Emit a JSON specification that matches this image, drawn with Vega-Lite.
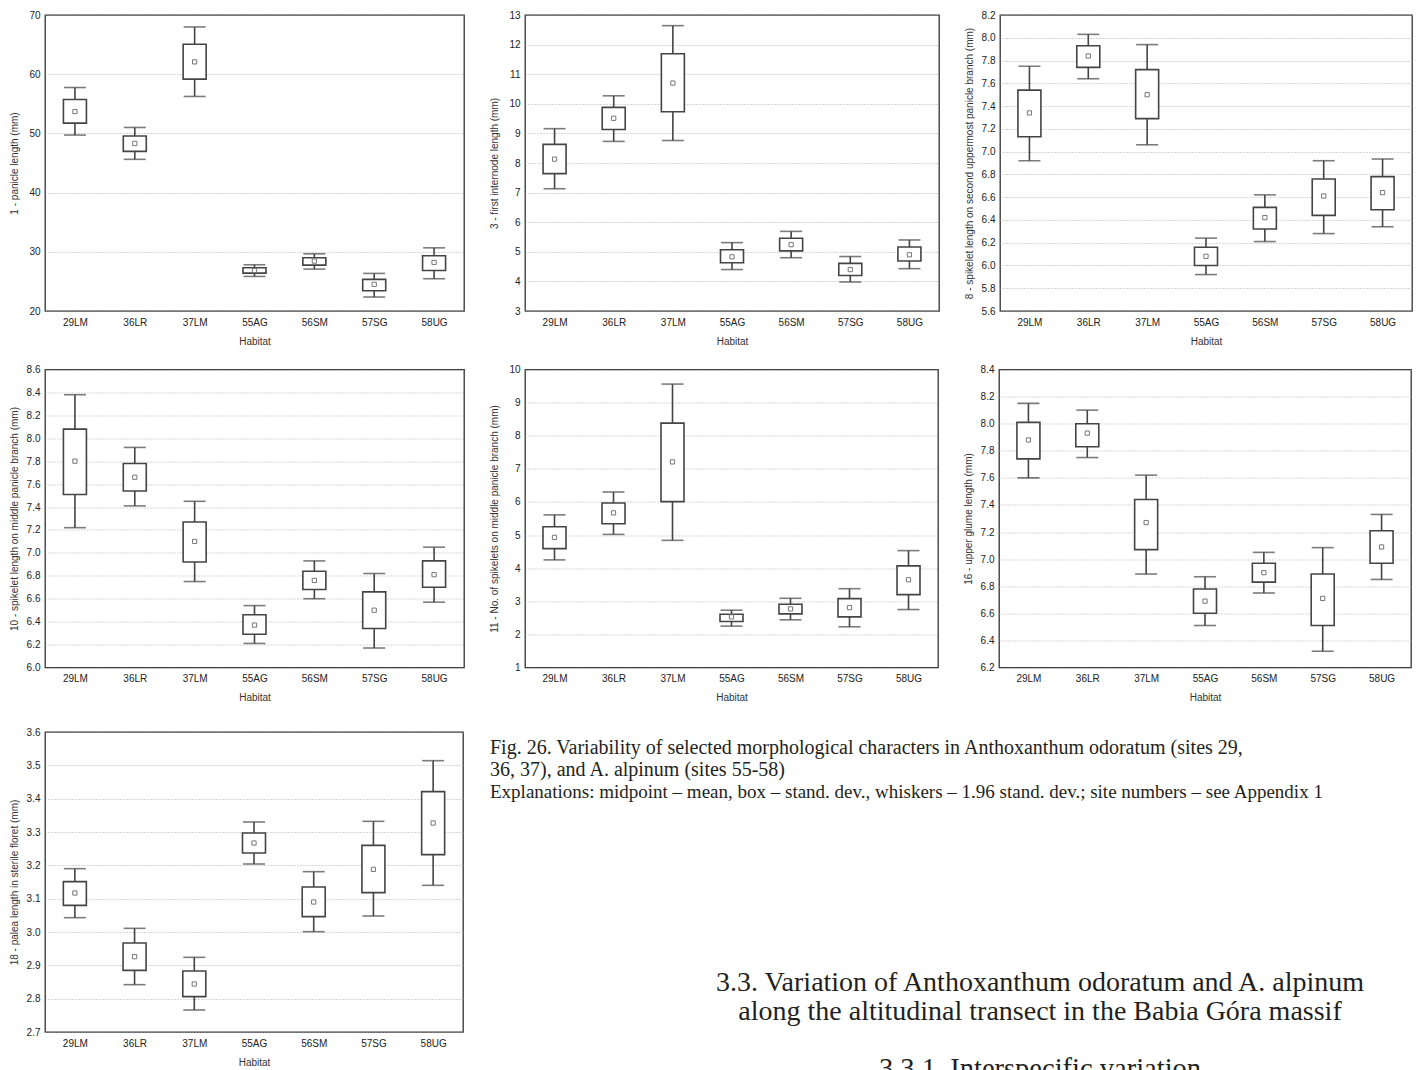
{
  "$schema": "https://vega.github.io/schema/vega-lite/v6.json",
  "background": "white",
  "padding": {"left": 8, "top": 9, "right": 0, "bottom": 0},
  "config": {
    "view": {"stroke": "#333", "strokeWidth": 1.3},
    "font": "Liberation Sans",
    "axis": {"labelFont": "Liberation Sans", "titleFont": "Liberation Sans", "labelFontSize": 10, "titleFontSize": 10, "titleFontWeight": "normal", "labelColor": "#222", "titleColor": "#333", "domain": false, "ticks": false, "labelOverlap": false},
    "axisY": {"grid": true, "gridDash": [1, 2], "gridColor": "#9a9a9a", "gridWidth": 0.8, "labelPadding": 5, "titlePadding": 6, "minExtent": 20, "maxExtent": 20, "labelOverlap": false, "tickCount": 30},
    "axisX": {"grid": false, "labelPadding": 6, "titlePadding": 9, "labelAngle": 0}
  },
  "datasets": {
    "boxes": [
      {"trait": "t1", "habitat": "29LM", "mean": 53.7, "box_lo": 51.74, "box_hi": 55.73, "whisker_lo": 49.72, "whisker_hi": 57.75},
      {"trait": "t1", "habitat": "36LR", "mean": 48.3, "box_lo": 46.97, "box_hi": 49.55, "whisker_lo": 45.62, "whisker_hi": 51.0},
      {"trait": "t1", "habitat": "37LM", "mean": 62.08, "box_lo": 59.16, "box_hi": 65.06, "whisker_lo": 56.24, "whisker_hi": 67.98},
      {"trait": "t1", "habitat": "55AG", "mean": 26.85, "box_lo": 26.4, "box_hi": 27.3, "whisker_lo": 25.84, "whisker_hi": 27.81},
      {"trait": "t1", "habitat": "56SM", "mean": 28.43, "box_lo": 27.75, "box_hi": 28.99, "whisker_lo": 27.08, "whisker_hi": 29.66},
      {"trait": "t1", "habitat": "57SG", "mean": 24.5, "box_lo": 23.43, "box_hi": 25.34, "whisker_lo": 22.36, "whisker_hi": 26.35},
      {"trait": "t1", "habitat": "58UG", "mean": 28.2, "box_lo": 26.85, "box_hi": 29.33, "whisker_lo": 25.45, "whisker_hi": 30.67},
      {"trait": "t3", "habitat": "29LM", "mean": 8.13, "box_lo": 7.64, "box_hi": 8.63, "whisker_lo": 7.13, "whisker_hi": 9.16},
      {"trait": "t3", "habitat": "36LR", "mean": 9.51, "box_lo": 9.13, "box_hi": 9.88, "whisker_lo": 8.73, "whisker_hi": 10.27},
      {"trait": "t3", "habitat": "37LM", "mean": 10.7, "box_lo": 9.73, "box_hi": 11.69, "whisker_lo": 8.76, "whisker_hi": 12.64},
      {"trait": "t3", "habitat": "55AG", "mean": 4.83, "box_lo": 4.63, "box_hi": 5.07, "whisker_lo": 4.4, "whisker_hi": 5.31},
      {"trait": "t3", "habitat": "56SM", "mean": 5.24, "box_lo": 5.03, "box_hi": 5.46, "whisker_lo": 4.8, "whisker_hi": 5.69},
      {"trait": "t3", "habitat": "57SG", "mean": 4.4, "box_lo": 4.2, "box_hi": 4.61, "whisker_lo": 3.98, "whisker_hi": 4.84},
      {"trait": "t3", "habitat": "58UG", "mean": 4.9, "box_lo": 4.69, "box_hi": 5.16, "whisker_lo": 4.43, "whisker_hi": 5.4},
      {"trait": "t8", "habitat": "29LM", "mean": 7.34, "box_lo": 7.13, "box_hi": 7.54, "whisker_lo": 6.92, "whisker_hi": 7.75},
      {"trait": "t8", "habitat": "36LR", "mean": 7.84, "box_lo": 7.74, "box_hi": 7.93, "whisker_lo": 7.64, "whisker_hi": 8.03},
      {"trait": "t8", "habitat": "37LM", "mean": 7.5, "box_lo": 7.29, "box_hi": 7.72, "whisker_lo": 7.06, "whisker_hi": 7.94},
      {"trait": "t8", "habitat": "55AG", "mean": 6.08, "box_lo": 6.0, "box_hi": 6.16, "whisker_lo": 5.92, "whisker_hi": 6.24},
      {"trait": "t8", "habitat": "56SM", "mean": 6.42, "box_lo": 6.32, "box_hi": 6.51, "whisker_lo": 6.21, "whisker_hi": 6.62},
      {"trait": "t8", "habitat": "57SG", "mean": 6.61, "box_lo": 6.44, "box_hi": 6.76, "whisker_lo": 6.28, "whisker_hi": 6.92},
      {"trait": "t8", "habitat": "58UG", "mean": 6.64, "box_lo": 6.49, "box_hi": 6.78, "whisker_lo": 6.34, "whisker_hi": 6.935},
      {"trait": "t10", "habitat": "29LM", "mean": 7.8, "box_lo": 7.51, "box_hi": 8.08, "whisker_lo": 7.22, "whisker_hi": 8.38},
      {"trait": "t10", "habitat": "36LR", "mean": 7.66, "box_lo": 7.54, "box_hi": 7.78, "whisker_lo": 7.41, "whisker_hi": 7.92},
      {"trait": "t10", "habitat": "37LM", "mean": 7.1, "box_lo": 6.92, "box_hi": 7.27, "whisker_lo": 6.75, "whisker_hi": 7.45},
      {"trait": "t10", "habitat": "55AG", "mean": 6.37, "box_lo": 6.29, "box_hi": 6.46, "whisker_lo": 6.21, "whisker_hi": 6.54},
      {"trait": "t10", "habitat": "56SM", "mean": 6.76, "box_lo": 6.68, "box_hi": 6.84, "whisker_lo": 6.6, "whisker_hi": 6.93},
      {"trait": "t10", "habitat": "57SG", "mean": 6.5, "box_lo": 6.34, "box_hi": 6.66, "whisker_lo": 6.17, "whisker_hi": 6.82},
      {"trait": "t10", "habitat": "58UG", "mean": 6.81, "box_lo": 6.7, "box_hi": 6.93, "whisker_lo": 6.57, "whisker_hi": 7.05},
      {"trait": "t11", "habitat": "29LM", "mean": 4.93, "box_lo": 4.59, "box_hi": 5.25, "whisker_lo": 4.25, "whisker_hi": 5.61},
      {"trait": "t11", "habitat": "36LR", "mean": 5.67, "box_lo": 5.34, "box_hi": 5.97, "whisker_lo": 5.02, "whisker_hi": 6.3},
      {"trait": "t11", "habitat": "37LM", "mean": 7.21, "box_lo": 6.01, "box_hi": 8.38, "whisker_lo": 4.84, "whisker_hi": 9.56},
      {"trait": "t11", "habitat": "55AG", "mean": 2.53, "box_lo": 2.39, "box_hi": 2.61, "whisker_lo": 2.25, "whisker_hi": 2.73},
      {"trait": "t11", "habitat": "56SM", "mean": 2.77, "box_lo": 2.62, "box_hi": 2.91, "whisker_lo": 2.44, "whisker_hi": 3.09},
      {"trait": "t11", "habitat": "57SG", "mean": 2.81, "box_lo": 2.53, "box_hi": 3.08, "whisker_lo": 2.23, "whisker_hi": 3.38},
      {"trait": "t11", "habitat": "58UG", "mean": 3.65, "box_lo": 3.2, "box_hi": 4.07, "whisker_lo": 2.75, "whisker_hi": 4.53},
      {"trait": "t16", "habitat": "29LM", "mean": 7.88, "box_lo": 7.74, "box_hi": 8.01, "whisker_lo": 7.6, "whisker_hi": 8.15},
      {"trait": "t16", "habitat": "36LR", "mean": 7.93, "box_lo": 7.83, "box_hi": 8.0, "whisker_lo": 7.75, "whisker_hi": 8.1},
      {"trait": "t16", "habitat": "37LM", "mean": 7.27, "box_lo": 7.07, "box_hi": 7.44, "whisker_lo": 6.89, "whisker_hi": 7.62},
      {"trait": "t16", "habitat": "55AG", "mean": 6.69, "box_lo": 6.6, "box_hi": 6.78, "whisker_lo": 6.51, "whisker_hi": 6.87},
      {"trait": "t16", "habitat": "56SM", "mean": 6.9, "box_lo": 6.83, "box_hi": 6.97, "whisker_lo": 6.75, "whisker_hi": 7.05},
      {"trait": "t16", "habitat": "57SG", "mean": 6.71, "box_lo": 6.51, "box_hi": 6.89, "whisker_lo": 6.32, "whisker_hi": 7.085},
      {"trait": "t16", "habitat": "58UG", "mean": 7.09, "box_lo": 6.97, "box_hi": 7.21, "whisker_lo": 6.85, "whisker_hi": 7.33},
      {"trait": "t18", "habitat": "29LM", "mean": 3.117, "box_lo": 3.08, "box_hi": 3.151, "whisker_lo": 3.043, "whisker_hi": 3.19},
      {"trait": "t18", "habitat": "36LR", "mean": 2.926, "box_lo": 2.885, "box_hi": 2.967, "whisker_lo": 2.842, "whisker_hi": 3.011},
      {"trait": "t18", "habitat": "37LM", "mean": 2.844, "box_lo": 2.806, "box_hi": 2.883, "whisker_lo": 2.766, "whisker_hi": 2.924},
      {"trait": "t18", "habitat": "55AG", "mean": 3.267, "box_lo": 3.237, "box_hi": 3.297, "whisker_lo": 3.204, "whisker_hi": 3.33},
      {"trait": "t18", "habitat": "56SM", "mean": 3.09, "box_lo": 3.046, "box_hi": 3.135, "whisker_lo": 3.001, "whisker_hi": 3.181},
      {"trait": "t18", "habitat": "57SG", "mean": 3.188, "box_lo": 3.118, "box_hi": 3.26, "whisker_lo": 3.048, "whisker_hi": 3.332},
      {"trait": "t18", "habitat": "58UG", "mean": 3.327, "box_lo": 3.232, "box_hi": 3.421, "whisker_lo": 3.14, "whisker_hi": 3.514}
    ],
    "caption": [
      {"block": "caption", "line": "c1", "style": "caption", "text": "Fig. 26. Variability of selected morphological characters in Anthoxanthum odoratum (sites 29,"},
      {"block": "caption", "line": "c2", "style": "caption", "text": "36, 37), and A. alpinum (sites 55-58)"},
      {"block": "caption", "line": "e", "style": "note", "text": "Explanations: midpoint – mean, box – stand. dev., whiskers – 1.96 stand. dev.; site numbers – see Appendix 1"}
    ],
    "heading": [
      {"block": "heading", "line": "h1", "cut": "no", "text": "3.3. Variation of Anthoxanthum odoratum and A. alpinum"},
      {"block": "heading", "line": "h2", "cut": "no", "text": "along the altitudinal transect in the Babia Góra massif"},
      {"block": "heading", "line": "h4", "cut": "yes", "text": "3.3.1. Interspecific variation"}
    ]
  },
  "vconcat": [
    {
      "vconcat": [
        {
          "hconcat": [
            {
              "width": 419, "height": 296,
              "data": {"name": "boxes"},
              "transform": [{"filter": "datum.trait == 't1'"}],
              "encoding": {"x": {"field": "habitat", "type": "nominal", "sort": null, "title": "Habitat", "scale": {"type": "point", "padding": 0.5}}},
              "layer": [
                {"mark": {"type": "rule", "color": "#444", "strokeWidth": 1.6}, "encoding": {"y": {"field": "whisker_lo", "type": "quantitative", "title": "1 - panicle length (mm)", "scale": {"domain": [20, 70], "nice": false, "zero": false}, "axis": {"values": [20, 30, 40, 50, 60, 70], "format": "d", "labelOverlap": false, "tickCount": 30}}, "y2": {"field": "whisker_hi"}}},
                {"mark": {"type": "tick", "color": "#444", "thickness": 1.6, "size": 22}, "encoding": {"y": {"field": "whisker_lo", "type": "quantitative", "title": "1 - panicle length (mm)"}}},
                {"mark": {"type": "tick", "color": "#444", "thickness": 1.6, "size": 22}, "encoding": {"y": {"field": "whisker_hi", "type": "quantitative", "title": "1 - panicle length (mm)"}}},
                {"mark": {"type": "bar", "width": 23, "fill": "white", "stroke": "#444", "strokeWidth": 1.6}, "encoding": {"y": {"field": "box_lo", "type": "quantitative", "title": "1 - panicle length (mm)"}, "y2": {"field": "box_hi"}}},
                {"mark": {"type": "point", "shape": "square", "size": 18, "filled": false, "color": "#777", "strokeWidth": 1, "opacity": 1}, "encoding": {"y": {"field": "mean", "type": "quantitative", "title": "1 - panicle length (mm)"}}}
              ]
            },
            {
              "width": 414, "height": 296,
              "data": {"name": "boxes"},
              "transform": [{"filter": "datum.trait == 't3'"}],
              "encoding": {"x": {"field": "habitat", "type": "nominal", "sort": null, "title": "Habitat", "scale": {"type": "point", "padding": 0.5}}},
              "layer": [
                {"mark": {"type": "rule", "color": "#444", "strokeWidth": 1.6}, "encoding": {"y": {"field": "whisker_lo", "type": "quantitative", "title": "3 - first internode length (mm)", "scale": {"domain": [3, 13], "nice": false, "zero": false}, "axis": {"values": [3, 4, 5, 6, 7, 8, 9, 10, 11, 12, 13], "format": "d", "labelOverlap": false, "tickCount": 30}}, "y2": {"field": "whisker_hi"}}},
                {"mark": {"type": "tick", "color": "#444", "thickness": 1.6, "size": 22}, "encoding": {"y": {"field": "whisker_lo", "type": "quantitative", "title": "3 - first internode length (mm)"}}},
                {"mark": {"type": "tick", "color": "#444", "thickness": 1.6, "size": 22}, "encoding": {"y": {"field": "whisker_hi", "type": "quantitative", "title": "3 - first internode length (mm)"}}},
                {"mark": {"type": "bar", "width": 23, "fill": "white", "stroke": "#444", "strokeWidth": 1.6}, "encoding": {"y": {"field": "box_lo", "type": "quantitative", "title": "3 - first internode length (mm)"}, "y2": {"field": "box_hi"}}},
                {"mark": {"type": "point", "shape": "square", "size": 18, "filled": false, "color": "#777", "strokeWidth": 1, "opacity": 1}, "encoding": {"y": {"field": "mean", "type": "quantitative", "title": "3 - first internode length (mm)"}}}
              ]
            },
            {
              "width": 412, "height": 296,
              "data": {"name": "boxes"},
              "transform": [{"filter": "datum.trait == 't8'"}],
              "encoding": {"x": {"field": "habitat", "type": "nominal", "sort": null, "title": "Habitat", "scale": {"type": "point", "padding": 0.5}}},
              "layer": [
                {"mark": {"type": "rule", "color": "#444", "strokeWidth": 1.6}, "encoding": {"y": {"field": "whisker_lo", "type": "quantitative", "title": "8 - spikelet length on second uppermost panicle branch (mm)", "scale": {"domain": [5.6, 8.2], "nice": false, "zero": false}, "axis": {"values": [5.6, 5.8, 6.0, 6.2, 6.4, 6.6, 6.8, 7.0, 7.2, 7.4, 7.6, 7.8, 8.0, 8.2], "format": ".1f", "labelOverlap": false, "tickCount": 30}}, "y2": {"field": "whisker_hi"}}},
                {"mark": {"type": "tick", "color": "#444", "thickness": 1.6, "size": 22}, "encoding": {"y": {"field": "whisker_lo", "type": "quantitative", "title": "8 - spikelet length on second uppermost panicle branch (mm)"}}},
                {"mark": {"type": "tick", "color": "#444", "thickness": 1.6, "size": 22}, "encoding": {"y": {"field": "whisker_hi", "type": "quantitative", "title": "8 - spikelet length on second uppermost panicle branch (mm)"}}},
                {"mark": {"type": "bar", "width": 23, "fill": "white", "stroke": "#444", "strokeWidth": 1.6}, "encoding": {"y": {"field": "box_lo", "type": "quantitative", "title": "8 - spikelet length on second uppermost panicle branch (mm)"}, "y2": {"field": "box_hi"}}},
                {"mark": {"type": "point", "shape": "square", "size": 18, "filled": false, "color": "#777", "strokeWidth": 1, "opacity": 1}, "encoding": {"y": {"field": "mean", "type": "quantitative", "title": "8 - spikelet length on second uppermost panicle branch (mm)"}}}
              ]
            }
          ],
          "bounds": "flush",
          "spacing": 61
        },
        {
          "hconcat": [
            {
              "width": 419, "height": 298,
              "data": {"name": "boxes"},
              "transform": [{"filter": "datum.trait == 't10'"}],
              "encoding": {"x": {"field": "habitat", "type": "nominal", "sort": null, "title": "Habitat", "scale": {"type": "point", "padding": 0.5}}},
              "layer": [
                {"mark": {"type": "rule", "color": "#444", "strokeWidth": 1.6}, "encoding": {"y": {"field": "whisker_lo", "type": "quantitative", "title": "10 - spikelet length on middle panicle branch (mm)", "scale": {"domain": [6.0, 8.6], "nice": false, "zero": false}, "axis": {"values": [6.0, 6.2, 6.4, 6.6, 6.8, 7.0, 7.2, 7.4, 7.6, 7.8, 8.0, 8.2, 8.4, 8.6], "format": ".1f", "labelOverlap": false, "tickCount": 30}}, "y2": {"field": "whisker_hi"}}},
                {"mark": {"type": "tick", "color": "#444", "thickness": 1.6, "size": 22}, "encoding": {"y": {"field": "whisker_lo", "type": "quantitative", "title": "10 - spikelet length on middle panicle branch (mm)"}}},
                {"mark": {"type": "tick", "color": "#444", "thickness": 1.6, "size": 22}, "encoding": {"y": {"field": "whisker_hi", "type": "quantitative", "title": "10 - spikelet length on middle panicle branch (mm)"}}},
                {"mark": {"type": "bar", "width": 23, "fill": "white", "stroke": "#444", "strokeWidth": 1.6}, "encoding": {"y": {"field": "box_lo", "type": "quantitative", "title": "10 - spikelet length on middle panicle branch (mm)"}, "y2": {"field": "box_hi"}}},
                {"mark": {"type": "point", "shape": "square", "size": 18, "filled": false, "color": "#777", "strokeWidth": 1, "opacity": 1}, "encoding": {"y": {"field": "mean", "type": "quantitative", "title": "10 - spikelet length on middle panicle branch (mm)"}}}
              ]
            },
            {
              "width": 413, "height": 298,
              "data": {"name": "boxes"},
              "transform": [{"filter": "datum.trait == 't11'"}],
              "encoding": {"x": {"field": "habitat", "type": "nominal", "sort": null, "title": "Habitat", "scale": {"type": "point", "padding": 0.5}}},
              "layer": [
                {"mark": {"type": "rule", "color": "#444", "strokeWidth": 1.6}, "encoding": {"y": {"field": "whisker_lo", "type": "quantitative", "title": "11 - No. of spikelets on middle panicle branch (mm)", "scale": {"domain": [1, 10], "nice": false, "zero": false}, "axis": {"values": [1, 2, 3, 4, 5, 6, 7, 8, 9, 10], "format": "d", "labelOverlap": false, "tickCount": 30}}, "y2": {"field": "whisker_hi"}}},
                {"mark": {"type": "tick", "color": "#444", "thickness": 1.6, "size": 22}, "encoding": {"y": {"field": "whisker_lo", "type": "quantitative", "title": "11 - No. of spikelets on middle panicle branch (mm)"}}},
                {"mark": {"type": "tick", "color": "#444", "thickness": 1.6, "size": 22}, "encoding": {"y": {"field": "whisker_hi", "type": "quantitative", "title": "11 - No. of spikelets on middle panicle branch (mm)"}}},
                {"mark": {"type": "bar", "width": 23, "fill": "white", "stroke": "#444", "strokeWidth": 1.6}, "encoding": {"y": {"field": "box_lo", "type": "quantitative", "title": "11 - No. of spikelets on middle panicle branch (mm)"}, "y2": {"field": "box_hi"}}},
                {"mark": {"type": "point", "shape": "square", "size": 18, "filled": false, "color": "#777", "strokeWidth": 1, "opacity": 1}, "encoding": {"y": {"field": "mean", "type": "quantitative", "title": "11 - No. of spikelets on middle panicle branch (mm)"}}}
              ]
            },
            {
              "width": 412, "height": 298,
              "data": {"name": "boxes"},
              "transform": [{"filter": "datum.trait == 't16'"}],
              "encoding": {"x": {"field": "habitat", "type": "nominal", "sort": null, "title": "Habitat", "scale": {"type": "point", "padding": 0.5}}},
              "layer": [
                {"mark": {"type": "rule", "color": "#444", "strokeWidth": 1.6}, "encoding": {"y": {"field": "whisker_lo", "type": "quantitative", "title": "16 - upper glume length (mm)", "scale": {"domain": [6.2, 8.4], "nice": false, "zero": false}, "axis": {"values": [6.2, 6.4, 6.6, 6.8, 7.0, 7.2, 7.4, 7.6, 7.8, 8.0, 8.2, 8.4], "format": ".1f", "labelOverlap": false, "tickCount": 30}}, "y2": {"field": "whisker_hi"}}},
                {"mark": {"type": "tick", "color": "#444", "thickness": 1.6, "size": 22}, "encoding": {"y": {"field": "whisker_lo", "type": "quantitative", "title": "16 - upper glume length (mm)"}}},
                {"mark": {"type": "tick", "color": "#444", "thickness": 1.6, "size": 22}, "encoding": {"y": {"field": "whisker_hi", "type": "quantitative", "title": "16 - upper glume length (mm)"}}},
                {"mark": {"type": "bar", "width": 23, "fill": "white", "stroke": "#444", "strokeWidth": 1.6}, "encoding": {"y": {"field": "box_lo", "type": "quantitative", "title": "16 - upper glume length (mm)"}, "y2": {"field": "box_hi"}}},
                {"mark": {"type": "point", "shape": "square", "size": 18, "filled": false, "color": "#777", "strokeWidth": 1, "opacity": 1}, "encoding": {"y": {"field": "mean", "type": "quantitative", "title": "16 - upper glume length (mm)"}}}
              ]
            }
          ],
          "bounds": "flush",
          "spacing": 61
        }
      ],
      "spacing": 16.5
    },
    {
      "hconcat": [
        {
          "width": 418, "height": 300,
          "data": {"name": "boxes"},
          "transform": [{"filter": "datum.trait == 't18'"}],
          "encoding": {"x": {"field": "habitat", "type": "nominal", "sort": null, "title": "Habitat", "scale": {"type": "point", "padding": 0.5}}},
          "layer": [
            {"mark": {"type": "rule", "color": "#444", "strokeWidth": 1.6}, "encoding": {"y": {"field": "whisker_lo", "type": "quantitative", "title": "18 - palea length in sterile floret (mm)", "scale": {"domain": [2.7, 3.6], "nice": false, "zero": false}, "axis": {"values": [2.7, 2.8, 2.9, 3.0, 3.1, 3.2, 3.3, 3.4, 3.5, 3.6], "format": ".1f", "labelOverlap": false, "tickCount": 30}}, "y2": {"field": "whisker_hi"}}},
            {"mark": {"type": "tick", "color": "#444", "thickness": 1.6, "size": 22}, "encoding": {"y": {"field": "whisker_lo", "type": "quantitative", "title": "18 - palea length in sterile floret (mm)"}}},
            {"mark": {"type": "tick", "color": "#444", "thickness": 1.6, "size": 22}, "encoding": {"y": {"field": "whisker_hi", "type": "quantitative", "title": "18 - palea length in sterile floret (mm)"}}},
            {"mark": {"type": "bar", "width": 23, "fill": "white", "stroke": "#444", "strokeWidth": 1.6}, "encoding": {"y": {"field": "box_lo", "type": "quantitative", "title": "18 - palea length in sterile floret (mm)"}, "y2": {"field": "box_hi"}}},
            {"mark": {"type": "point", "shape": "square", "size": 18, "filled": false, "color": "#777", "strokeWidth": 1, "opacity": 1}, "encoding": {"y": {"field": "mean", "type": "quantitative", "title": "18 - palea length in sterile floret (mm)"}}}
          ]
        },
        {
          "vconcat": [
            {
              "width": 890, "height": 76,
              "view": {"stroke": null},
              "data": {"name": "caption"},
              "encoding": {
                "x": {"field": "block", "type": "nominal", "scale": {"type": "point", "align": 0, "padding": 0}, "axis": null},
                "y": {"field": "line", "type": "ordinal", "scale": {"type": "point", "domain": ["c1", "c2", "e"], "padding": 0.727}, "axis": null},
                "text": {"field": "text", "type": "nominal"}
              },
              "layer": [
                {"transform": [{"filter": "datum.style == 'caption'"}], "mark": {"type": "text", "align": "left", "baseline": "middle", "font": "Liberation Serif", "fontSize": 20, "color": "#231f20"}},
                {"transform": [{"filter": "datum.style == 'note'"}], "mark": {"type": "text", "align": "left", "baseline": "middle", "font": "Liberation Serif", "fontSize": 19, "color": "#231f20"}}
              ]
            },
            {
              "width": 890, "height": 88.5,
              "view": {"stroke": null},
              "data": {"name": "heading"},
              "encoding": {
                "x": {"field": "block", "type": "nominal", "scale": {"type": "point", "align": 0.618, "padding": 0}, "axis": null},
                "y": {"field": "line", "type": "ordinal", "scale": {"type": "point", "domain": ["h1", "h2", "h3", "h4"], "padding": 0.0526}, "axis": null},
                "text": {"field": "text", "type": "nominal"}
              },
              "layer": [
                {"transform": [{"filter": "datum.cut == 'no'"}], "mark": {"type": "text", "align": "center", "baseline": "middle", "font": "Liberation Serif", "fontSize": 28, "color": "#231f20"}},
                {"transform": [{"filter": "datum.cut == 'yes'"}], "mark": {"type": "text", "align": "center", "baseline": "middle", "font": "Liberation Serif", "fontSize": 28.5, "color": "#231f20", "clip": true}}
              ]
            }
          ],
          "spacing": 161
        }
      ],
      "spacing": 26
    }
  ],
  "spacing": 22
}
